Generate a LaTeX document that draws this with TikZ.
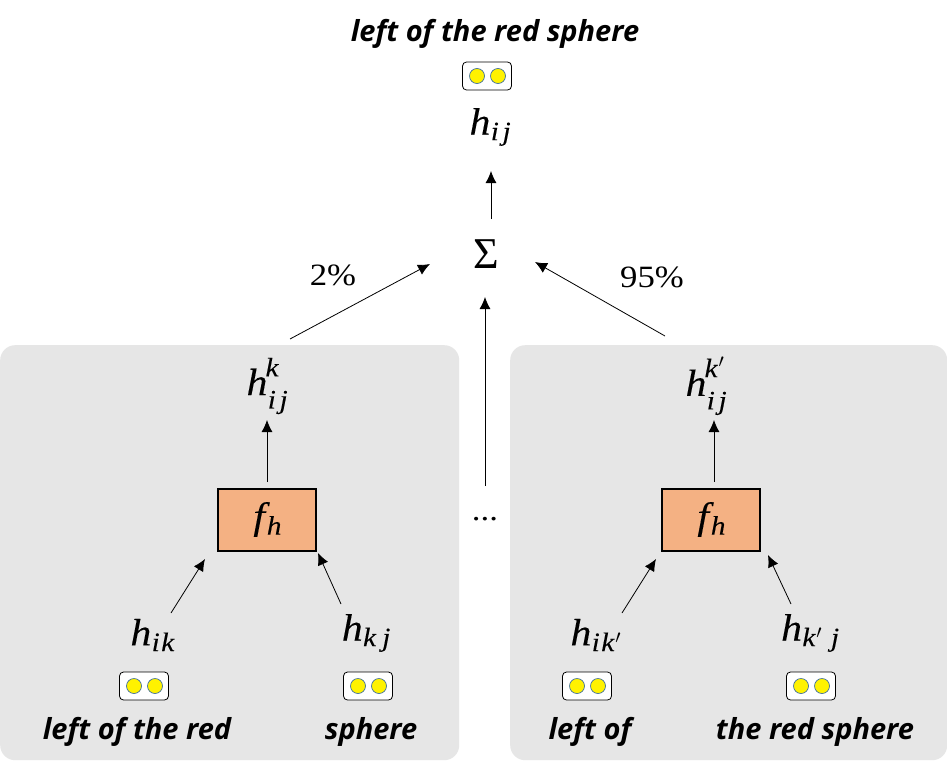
\RequirePackage{fix-cm}
\documentclass[tikz,border=0pt]{standalone}
\usepackage{fontspec}
\setmainfont{Liberation Serif}
\setmathrm[FakeBold=0.1,FakeStretch=1.1]{Liberation Serif Italic}
\newfontfamily\numfont[FakeStretch=1.12]{Liberation Serif}
\newfontfamily\labelfont[ItalicFont={Open Sans Bold Italic}]{Open Sans}
\usetikzlibrary{arrows.meta}
\definecolor{panelgray}{HTML}{E6E6E6}
\definecolor{boxorange}{HTML}{F4B183}
\definecolor{dotblue}{HTML}{41719C}
\newcommand{\mi}[1]{\mathrm{#1}}
\newcommand{\sk}{\mkern3mu}
\newcommand{\pr}{\mkern1.5mu'}
\newcommand{\upsc}[1]{\raisebox{5pt}{$\scriptstyle #1$}}
\newcommand{\dnsc}[1]{\raisebox{-4pt}{$\scriptstyle #1$}}
\tikzset{
  panel/.style={fill=panelgray,rounded corners=15pt,draw=none},
  fbox/.style={draw=black,line width=2pt,fill=boxorange,minimum width=98pt,minimum height=62pt,inner sep=0pt,font=\fontsize{38}{42}\selectfont},
  mathlabel/.style={inner sep=0pt,font=\fontsize{38}{42}\selectfont},
  sumlabel/.style={inner sep=0pt,font=\fontsize{44}{48}\selectfont},
  numlabel/.style={inner sep=0pt,font=\fontsize{31}{36}\selectfont\numfont},
  phrase/.style={inner sep=0pt,font=\fontsize{29}{33}\selectfont\labelfont\itshape},
  pairbox/.style={draw=black,line width=0.8pt,fill=white,rounded corners=4pt,minimum width=49pt,minimum height=28pt,inner sep=0pt},
  dot/.style={circle,draw=dotblue,line width=0.7pt,fill=yellow,minimum size=15pt,inner sep=0pt},
  conn/.style={draw=black,line width=0.8pt,-{Latex[length=12pt,width=11pt]}}
}
\newcommand{\pairat}[2]{%
  \node[pairbox] (#1) at (#2) {};
  \node[dot] (#1a) at ([xshift=-10pt]#1.center) {};
  \node[dot] (#1b) at ([xshift=11pt]#1.center) {};
}
\begin{document}
\begin{tikzpicture}[x=1pt,y=-1pt]
\useasboundingbox (0,0) rectangle (947,768);
\fill[white] (0,0) rectangle (947,768);
\node[panel,minimum width=459pt,minimum height=415pt,inner sep=0pt,anchor=north west] (lp) at (0,345) {};
\node[panel,minimum width=437pt,minimum height=415pt,inner sep=0pt,anchor=north west] (rp) at (510,345) {};

\node[phrase] (top) at (495,34) {left of the red sphere};
\pairat{ptop}{487,76}
\node[mathlabel] (hij) at (490,127) {$\mi{h}_{\mkern1.5mu\mi{i}\sk\mi{j}}$};
\node[sumlabel] (sum) at (486,254) {Σ};
\node[numlabel] (pa) at (333,275) {2\%};
\node[numlabel] (pb) at (652,277) {95\%};
\node[numlabel] (dots) at (485,519) {...};

\node[mathlabel] (hk) at (267,386) {$\mi{h}^{\upsc{\mi{k}}}_{\dnsc{\mkern1.5mu\mi{i}\sk\mi{j}}}$};
\node[fbox] (fl) at (267,519.5) {$\mi{f}_{\mkern2mu\mi{h}}$};
\node[mathlabel] (hik) at (152,635) {$\mi{h}_{\mkern1.5mu\mi{i}\mkern1.5mu\mi{k}}$};
\node[mathlabel] (hkj) at (366,633) {$\mi{h}_{\mkern1.5mu\mi{k}\mkern5mu\mi{j}}$};
\pairat{pl}{144,686}
\pairat{pm}{368,686}
\node[phrase] (tl) at (137,732) {left of the red};
\node[phrase] (tm) at (371,732) {sphere};

\node[mathlabel] (hkp) at (706,386) {$\mi{h}^{\upsc{\mi{k}\pr}}_{\dnsc{\mkern1.5mu\mi{i}\sk\mi{j}}}$};
\node[fbox] (fr) at (711,519.5) {$\mi{f}_{\mkern2mu\mi{h}}$};
\node[mathlabel] (hikp) at (596,635) {$\mi{h}_{\mkern1.5mu\mi{i}\mkern1.5mu\mi{k}\pr}$};
\node[mathlabel] (hkpj) at (810,633) {$\mi{h}_{\mkern1.5mu\mi{k}\pr\mkern6mu\mi{j}}$};
\pairat{pr}{587,686}
\pairat{ps}{811,686}
\node[phrase] (tr) at (590,732) {left of};
\node[phrase] (ts) at (815,732) {the red sphere};

\coordinate (a1s) at (491,219); \coordinate (a1e) at (491,171);
\coordinate (a2s) at (290,339); \coordinate (a2e) at (430,264);
\coordinate (a3s) at (665,336); \coordinate (a3e) at (535,262);
\coordinate (a4s) at (485,486); \coordinate (a4e) at (485,297);
\coordinate (a5s) at (267,482); \coordinate (a5e) at (267,420);
\coordinate (a6s) at (171,613); \coordinate (a6e) at (205,559);
\coordinate (a7s) at (341,604); \coordinate (a7e) at (318,553);
\coordinate (a8s) at (714,482); \coordinate (a8e) at (714,420);
\coordinate (a9s) at (622,613); \coordinate (a9e) at (656,559);
\coordinate (a10s) at (791,604); \coordinate (a10e) at (768,555);
\foreach \i in {1,...,10} \draw[conn] (a\i s) -- (a\i e);
\end{tikzpicture}
\end{document}
